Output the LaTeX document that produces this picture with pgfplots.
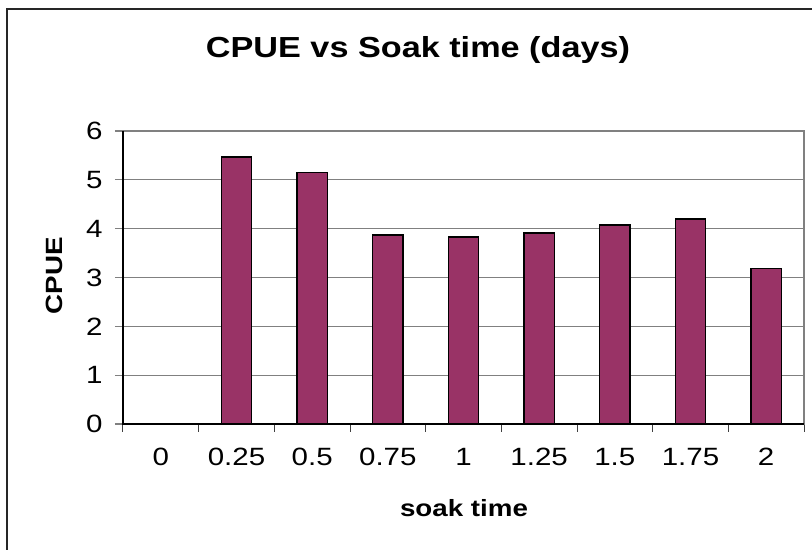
\documentclass[border=0pt]{standalone}
\usepackage{fontspec}
\setmainfont{Liberation Sans}[FakeStretch=1.18]
\usepackage{pgfplots}
\pgfplotsset{compat=1.18}
\definecolor{plum}{HTML}{993366}
\definecolor{gridgray}{HTML}{808080}
\begin{document}
\begin{tikzpicture}[x=1bp,y=1bp]
\path[use as bounding box] (-123,-126) rectangle (689,424);
% chart area frame, cut off at the right and bottom
\begin{scope}
\clip (-123,-126) rectangle (689,424);
\draw[line width=1.5bp, black!85] (-116,415) rectangle (706,-160);
\end{scope}

\begin{axis}[
    at={(0,0)}, anchor=south west,
    width=681bp, height=293bp, scale only axis,
    xmin=-0.5, xmax=8.5, ymin=0, ymax=6,
    ytick={0,...,6},
    xtick={0,...,8},
    xticklabels={0,0.25,0.5,0.75,1,1.25,1.5,1.75,2},
    minor xtick={-0.5,0.5,...,8.5},
    tick pos=left,
    major x tick style={draw=none},
    minor x tick style={draw=black!75, line width=1bp},
    y tick style={draw=gridgray, line width=1.3bp},
    tick align=outside,
    major tick length=8bp, minor tick length=8bp,
    ymajorgrids,
    major grid style={gridgray, line width=1.3bp},
    axis line style={gridgray, line width=1.3bp},
    tick label style={font=\fontsize{25bp}{30bp}\selectfont},
    yticklabel style={xshift=-9bp},
    xticklabel style={yshift=-13bp},
    /pgf/number format/assume math mode=true,
    clip=false,
]
\addplot[ybar, bar width=0.4, fill=plum, draw=black, line width=1.5bp]
    coordinates {(0,0) (1,5.47) (2,5.15) (3,3.87) (4,3.83) (5,3.91) (6,4.08) (7,4.20) (8,3.18)};
\draw[black, line width=1.5bp] (rel axis cs:0,1) -- (rel axis cs:0,0) -- (rel axis cs:1,0);
\end{axis}

\node[anchor=base, font=\bfseries\fontsize{29bp}{34bp}\selectfont] at (295,366) {CPUE vs Soak time (days)};
\node[anchor=base, font=\bfseries\fontsize{23.5bp}{28bp}\selectfont] at (341,-93) {soak time};
\node[anchor=base, rotate=90, font=\bfseries\fontsize{23.5bp}{28bp}\selectfont] at (-60,148) {CPUE};
\end{tikzpicture}
\end{document}
